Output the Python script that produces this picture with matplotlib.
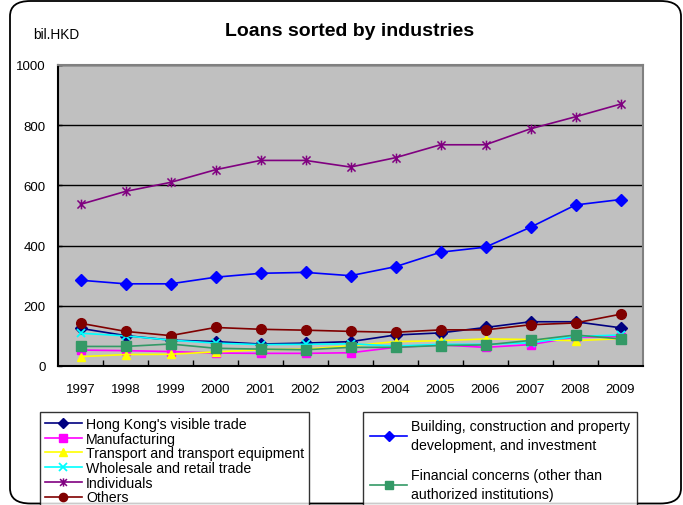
import matplotlib.pyplot as plt
from matplotlib.patches import FancyBboxPatch
from matplotlib.path import Path

plt.rcParams['font.family'] = ['Liberation Sans', 'DejaVu Sans']

years = ['1997', '1998', '1999', '2000', '2001', '2002', '2003',
         '2004', '2005', '2006', '2007', '2008', '2009']

# bil. HKD
hk_trade = [125, 101, 86, 81, 73, 76, 81, 103, 110, 128, 147, 147, 127]
manufacturing = [53, 51, 48, 43, 42, 42, 44, 62, 70, 62, 71, 96, 98]
transport = [31, 38, 39, 47, 54, 56, 67, 81, 84, 90, 88, 84, 91]
wholesale = [109, 100, 86, 76, 71, 72, 74, 66, 72, 72, 77, 98, 103]
individuals = [537, 580, 610, 652, 683, 683, 661, 692, 735, 735, 788, 828, 870]
others = [142, 115, 101, 128, 122, 119, 115, 112, 120, 120, 137, 143, 172]
building = [285, 273, 273, 295, 308, 311, 300, 330, 378, 395, 461, 535, 553]
financial = [65, 65, 73, 59, 56, 54, 62, 62, 68, 70, 85, 103, 90]

# Excel-style asterisk: an X with a vertical bar through it
asterisk = Path([(-1, -1), (1, 1), (-1, 1), (1, -1), (0, -1.2), (0, 1.2)],
                [Path.MOVETO, Path.LINETO] * 3)

fig = plt.figure(figsize=(6.83, 5.06), dpi=100)

# rounded outer frame
frame = FancyBboxPatch((10 / 683, 1.5 / 506), 671 / 683, 502.5 / 506,
                       boxstyle='round,pad=0,rounding_size=0.03',
                       transform=fig.transFigure, facecolor='none',
                       edgecolor='black', lw=1.3, zorder=0)
fig.patches.append(frame)

ax = fig.add_axes([58 / 683, 139 / 506, 585 / 683, 301 / 506])
ax.set_facecolor('#C0C0C0')

x = range(len(years))
kw = dict(lw=1.2, ms=6, clip_on=False)
h1, = ax.plot(x, hk_trade, color='#000080', marker='D', mec='#000080', label="Hong Kong's visible trade", **kw)
h2, = ax.plot(x, manufacturing, color='#FF00FF', marker='s', label='Manufacturing', **kw)
h3, = ax.plot(x, transport, color='#FFFF00', marker='^', label='Transport and transport equipment', **kw)
h4, = ax.plot(x, wholesale, color='#00FFFF', marker='x', mew=1.3, label='Wholesale and retail trade', **kw)
h5, = ax.plot(x, individuals, color='#800080', marker=asterisk, mew=1.1, ms=7, lw=1.2,
              label='Individuals', clip_on=False)
h6, = ax.plot(x, others, color='#800000', marker='o', label='Others', lw=1.2, ms=7, clip_on=False)
h7, = ax.plot(x, building, color='#0000FF', marker='D', label='Building, construction and property\ndevelopment, and investment', **kw)
h8, = ax.plot(x, financial, color='#339966', marker='s', ms=7, lw=1.2,
              label='Financial concerns (other than\nauthorized institutions)', clip_on=False)

ax.set_xlim(-0.5, len(years) - 0.5)
ax.set_ylim(0, 1000)
ax.set_yticks(range(0, 1001, 200))
ax.set_xticks(list(x))
ax.set_xticklabels(years)
ax.set_xticks([i + 0.5 for i in range(len(years) - 1)], minor=True)
ax.tick_params(axis='x', which='major', length=0, pad=12, labelsize=9.5)
ax.tick_params(axis='x', which='minor', direction='in', length=4, width=1)
ax.tick_params(axis='y', direction='in', length=3, width=1, pad=9, labelsize=9.5)
ax.grid(axis='y', color='black', lw=1)
ax.set_axisbelow(True)
for side in ['top', 'right']:
    ax.spines[side].set_color('#808080')
    ax.spines[side].set_linewidth(1.5)
for side in ['left', 'bottom']:
    ax.spines[side].set_color('black')
    ax.spines[side].set_linewidth(1.5)

fig.text(350 / 683, 1 - 32 / 506, 'Loans sorted by industries', fontsize=14,
         fontweight='bold', ha='center', va='center')
fig.text(33 / 683, 1 - 35 / 506, 'bil.HKD', fontsize=9.8, ha='left', va='center')

leg_kw = dict(frameon=True, fancybox=False, fontsize=10.2, handlelength=2.6,
              handletextpad=0.3, borderaxespad=0, edgecolor='black', markerscale=0.85)
leg1 = fig.legend(handles=[h1, h2, h3, h4, h5, h6], loc='upper left',
                  bbox_to_anchor=(40 / 683, 1 - 413 / 506), labelspacing=0.05,
                  borderpad=0.35, **leg_kw)
leg2 = fig.legend(handles=[h7, h8], loc='upper left',
                  bbox_to_anchor=(363 / 683, 1 - 413 / 506), labelspacing=1.1,
                  borderpad=0.5, **leg_kw)
for leg in (leg1, leg2):
    leg.get_frame().set_linewidth(1.0)
for t in leg2.get_texts():
    t.set_linespacing(1.45)

fig.savefig('out.png', dpi=100)
